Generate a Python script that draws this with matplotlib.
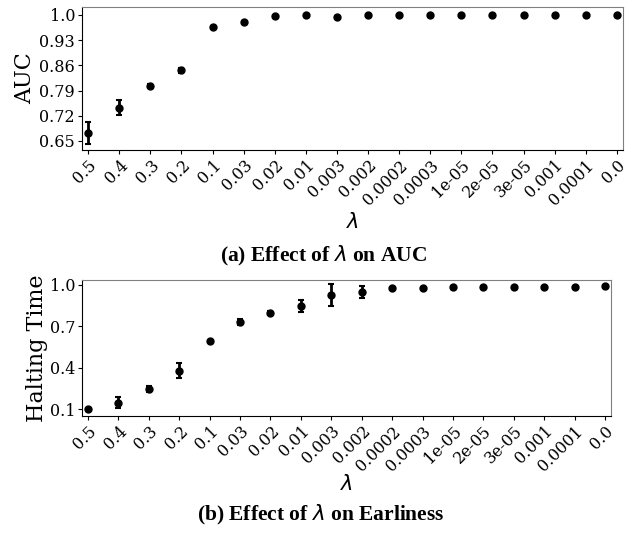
import numpy as np
import matplotlib
matplotlib.use("Agg")
import matplotlib.pyplot as plt

# lambda values used on the x axis (categorical)
lambdas = ["0.5", "0.4", "0.3", "0.2", "0.1", "0.03", "0.02", "0.01", "0.003",
           "0.002", "0.0002", "0.0003", "1e-05", "2e-05", "3e-05", "0.001",
           "0.0001", "0.0"]

auc_mean = [0.672, 0.742, 0.803, 0.846, 0.967, 0.981, 0.996, 0.999, 0.995,
            0.999, 0.999, 0.999, 0.999, 0.999, 0.999, 0.999, 0.999, 0.999]
auc_err = [0.030, 0.021, 0.005, 0.008, 0.003, 0.003, 0.002, 0.001, 0.001,
           0.001, 0.001, 0.001, 0.001, 0.001, 0.001, 0.001, 0.001, 0.001]

halt_mean = [0.100, 0.148, 0.247, 0.378, 0.593, 0.730, 0.800, 0.849, 0.928,
             0.948, 0.977, 0.977, 0.984, 0.986, 0.986, 0.986, 0.988, 0.990]
halt_err = [0.004, 0.042, 0.020, 0.054, 0.004, 0.022, 0.012, 0.043, 0.079,
            0.043, 0.002, 0.002, 0.002, 0.002, 0.002, 0.002, 0.002, 0.002]

auc_ticks = [0.65, 0.72, 0.79, 0.86, 0.93, 1.0]
halt_ticks = [0.1, 0.4, 0.7, 1.0]

plt.rcParams["font.family"] = "DejaVu Serif"
plt.rcParams["mathtext.fontset"] = "dejavusans"

fig = plt.figure(figsize=(6.36, 5.33), dpi=100)
W, H = 636.0, 533.0


def make_axes(left, top, right, bottom):
    return fig.add_axes([left / W, 1 - bottom / H, (right - left) / W, (bottom - top) / H])


def style_axes(ax, ticks, ylabel, ylim, label_y, ypad):
    x = np.arange(len(lambdas))
    ax.set_xlim(-0.2, len(lambdas) - 1 + 0.2)
    ax.set_ylim(*ylim)
    ax.set_xticks(x)
    ax.set_xticklabels(lambdas, rotation=45, ha="right", va="top",
                       rotation_mode="anchor", fontsize=11.5)
    ax.set_yticks(ticks)
    ax.set_yticklabels([str(t) for t in ticks], fontsize=11.5)
    ax.set_ylabel(ylabel, fontsize=16, labelpad=ypad)
    ax.set_xlabel(r"$\lambda$", fontsize=15)
    ax.xaxis.label.set_va("center")
    ax.xaxis.set_label_coords(0.5, label_y)
    for side in ["top", "right"]:
        ax.spines[side].set_color("#808080")
    ax.tick_params(length=3, pad=2)


ax1 = make_axes(82, 7, 623, 150)
ax1.errorbar(np.arange(len(lambdas)), auc_mean, yerr=auc_err, fmt="o", color="black",
             markersize=5, elinewidth=2, capsize=2.5, capthick=1.5)
style_axes(ax1, auc_ticks, "AUC", (0.625, 1.022), (150 - 222) / 143.0, 2)

ax2 = make_axes(82, 280, 611, 416)
ax2.errorbar(np.arange(len(lambdas)), halt_mean, yerr=halt_err, fmt="o", color="black",
             markersize=5, elinewidth=2, capsize=2.5, capthick=1.5)
style_axes(ax2, halt_ticks, "Halting Time", (0.051, 1.036), (416 - 484) / 136.0, 1)

fig.text(324 / W, 1 - 256 / H, r"(a) Effect of $\lambda$ on AUC", ha="center", va="center",
         fontsize=15.5, fontweight="bold", family="Liberation Serif")
fig.text(321 / W, 1 - 515 / H, r"(b) Effect of $\lambda$ on Earliness", ha="center", va="center",
         fontsize=15.5, fontweight="bold", family="Liberation Serif")

fig.savefig("out.png", dpi=100)
